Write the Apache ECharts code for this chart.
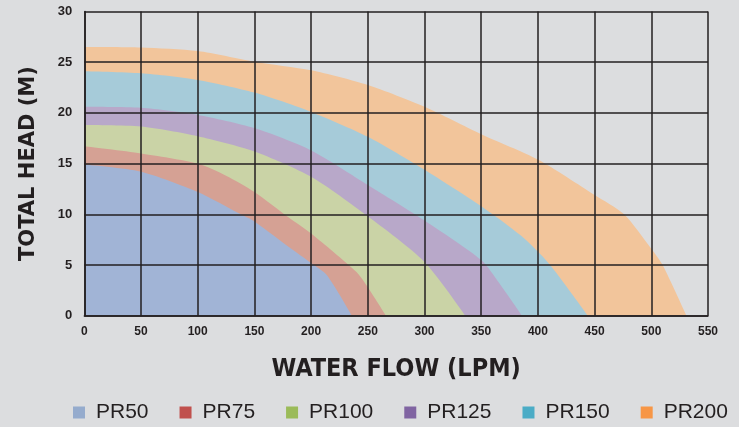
<!DOCTYPE html>
<html>
<head>
<meta charset="utf-8">
<script src="https://cdn.jsdelivr.net/npm/echarts@6/dist/echarts.min.js"></script>
<style>
html,body{margin:0;padding:0;background:#dcdddf;}
#chart{width:739px;height:427px;}
</style>
</head>
<body>
<div id="chart"></div>
<script>
const seriesNames = ['PR50', 'PR75', 'PR100', 'PR125', 'PR150', 'PR200'];
const xTicks = [0, 50, 100, 150, 200, 250, 300, 350, 400, 450, 500, 550];
const yTicks = [0, 5, 10, 15, 20, 25, 30];

const pr50 = [[0,14.9],[50,14.2],[100,12.2],[138,10],[150,9.3],[185,6.4],[200,5.2],[214,4.0],[236,0]];
const pr75 = [[0,16.7],[50,16.0],[100,15.0],[125,13.8],[150,12.2],[180,9.7],[200,8.1],[240,4.3],[250,2.8],[266,0]];
const pr100 = [[0,18.8],[50,18.65],[100,17.7],[150,16.2],[200,13.7],[250,9.8],[300,5.3],[336,0]];
const pr125 = [[0,20.6],[50,20.5],[100,19.8],[150,18.5],[200,16.3],[250,12.9],[300,9.4],[350,5.5],[366,3.2],[386,0]];
const pr150 = [[0,24.1],[50,23.9],[100,23.25],[150,22.0],[200,20.1],[250,17.65],[300,14.4],[350,10.8],[385,7.9],[410,5.1],[444,0]];
const pr200 = [[0,26.5],[50,26.45],[100,26.1],[150,25.05],[200,24.2],[250,22.75],[300,20.6],[350,17.9],[400,15.4],[450,11.9],[476,10],[500,6.6],[510,5],[531,0]];

const dataByName = {PR50: pr50, PR75: pr75, PR100: pr100, PR125: pr125, PR150: pr150, PR200: pr200};
const legendColors = {PR50:'#95abcd', PR75:'#c0504d', PR100:'#9bbb59', PR125:'#8064a2', PR150:'#4bacc6', PR200:'#f79646'};
const fillColors = {PR50:'#a1b4d6', PR75:'#d5a194', PR100:'#cad3a6', PR125:'#b8a8c9', PR150:'#a6cbd9', PR200:'#f2c59b'};

const drawOrder = seriesNames.slice().reverse();
const series = drawOrder.map(n => ({
  name: n,
  type: 'line',
  data: dataByName[n],
  smooth: 0.25,
  showSymbol: false,
  symbol: 'none',
  color: legendColors[n],
  itemStyle: {color: legendColors[n]},
  lineStyle: {width: 0, color: fillColors[n]},
  areaStyle: {color: fillColors[n], opacity: 1},
  z: 2
}));

const lineCol = '#231f20';
const chart = echarts.init(document.getElementById('chart'), null, {renderer: 'canvas'});
chart.setOption({
  backgroundColor: '#dcdddf',
  animation: false,
  grid: {left: 84.3, right: 31, top: 11.5, bottom: 111.3, show: false},
  legend: {
    data: seriesNames,
    left: 73, top: 402, padding: 0,
    icon: 'rect', itemWidth: 12, itemHeight: 12, itemGap: 31,
    textStyle: {fontFamily: 'Liberation Sans, Arial, sans-serif', fontSize: 21, color: '#231f20', padding: [0,0,0,6]}
  },
  xAxis: {
    type: 'value', min: 0, max: 550, interval: 50, z: 10,
    axisLine: {show: true, lineStyle: {color: lineCol, width: 1.5}},
    axisTick: {show: false},
    splitLine: {show: true, lineStyle: {color: lineCol, width: 1.5}},
    axisLabel: {margin: 10, fontFamily: 'Liberation Sans, Arial, sans-serif', fontWeight: 'bold', fontSize: 12, color: lineCol,
      formatter: v => xTicks.includes(v) ? String(v) : ''},
    name: 'WATER FLOW (LPM)', nameLocation: 'middle', nameGap: 41,
    nameTextStyle: {fontFamily: 'DejaVu Sans Condensed, Arial, sans-serif', fontWeight: 'bold', fontSize: 25, color: lineCol}
  },
  yAxis: {
    type: 'value', min: 0, max: 30, interval: 5, z: 10,
    axisLine: {show: true, lineStyle: {color: lineCol, width: 1.5}},
    axisTick: {show: false},
    splitLine: {show: true, lineStyle: {color: lineCol, width: 1.5}},
    axisLabel: {margin: 12, fontFamily: 'Liberation Sans, Arial, sans-serif', fontWeight: 'bold', fontSize: 13, color: lineCol,
      formatter: v => yTicks.includes(v) ? String(v) : ''},
    name: 'TOTAL HEAD (M)', nameLocation: 'middle', nameGap: 45, nameRotate: 90,
    nameTextStyle: {fontFamily: 'DejaVu Sans, Arial, sans-serif', fontWeight: 'bold', fontSize: 21, color: lineCol}
  },
  series: series
});
</script>
</body>
</html>
